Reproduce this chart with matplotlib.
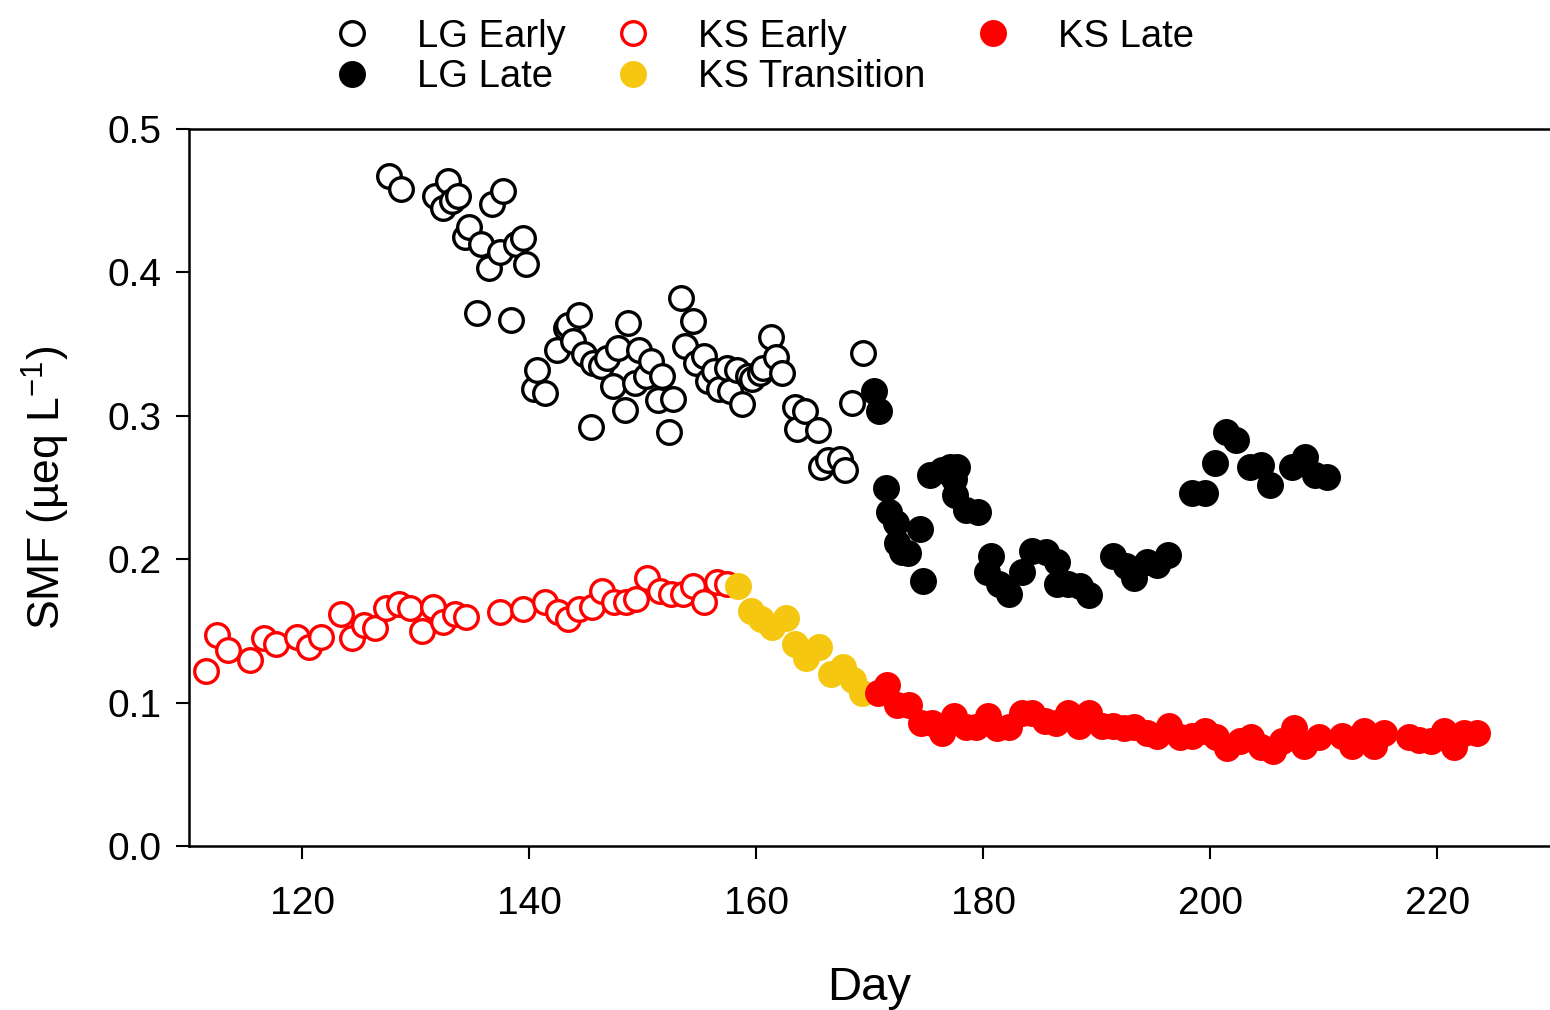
import matplotlib
matplotlib.use("Agg")
import matplotlib.pyplot as plt

plt.rcParams['font.family'] = ['Liberation Sans', 'DejaVu Sans']
plt.rcParams['mathtext.fontset'] = 'custom'
plt.rcParams['mathtext.rm'] = 'Liberation Sans'
plt.rcParams['mathtext.it'] = 'Liberation Sans'

lg_early_day = [127.6, 128.7, 131.7, 132.4, 132.8, 133.2, 133.7, 134.3, 134.7, 135.4, 135.7, 136.4, 136.7,
                137.4, 137.7, 138.4, 138.8, 139.4, 139.7, 140.4, 140.7, 141.4, 142.4, 143.2, 143.4, 143.8,
                144.4, 144.8, 145.4, 145.6, 146.3, 146.8, 147.4, 147.8, 148.4, 148.7, 149.3, 149.7, 150.3,
                150.7, 151.3, 151.7, 152.3, 152.7, 153.4, 153.7, 154.4, 154.7, 155.4, 155.7, 156.3, 156.7,
                157.4, 157.7, 158.3, 158.7, 159.3, 159.6, 160.3, 160.6, 161.3, 161.7, 162.3, 163.4, 163.6,
                164.3, 165.4, 165.7, 166.3, 167.4, 167.8, 168.4, 169.4]
lg_early_val = [0.467, 0.458, 0.453, 0.445, 0.464, 0.450, 0.453, 0.425, 0.432, 0.372, 0.420, 0.403, 0.448,
                0.414, 0.457, 0.367, 0.420, 0.424, 0.406, 0.319, 0.332, 0.316, 0.346, 0.361, 0.363, 0.352,
                0.370, 0.343, 0.292, 0.337, 0.335, 0.340, 0.321, 0.347, 0.304, 0.365, 0.323, 0.346, 0.328,
                0.338, 0.311, 0.328, 0.289, 0.312, 0.382, 0.349, 0.366, 0.337, 0.342, 0.324, 0.331, 0.319,
                0.333, 0.317, 0.332, 0.308, 0.328, 0.326, 0.330, 0.333, 0.355, 0.341, 0.330, 0.306, 0.291,
                0.303, 0.290, 0.264, 0.269, 0.270, 0.262, 0.309, 0.344]

lg_late_day = [170.4, 170.8, 171.4, 171.7, 172.3, 172.4, 172.8, 173.4, 174.4, 174.7, 175.3, 176.4, 177.1,
               177.4, 177.5, 177.7, 178.5, 179.5, 180.3, 180.7, 181.4, 182.3, 183.4, 184.3, 185.5, 186.5,
               186.5, 187.5, 188.5, 189.3, 191.4, 192.6, 193.3, 194.4, 195.3, 196.3, 198.4, 199.5, 200.4,
               201.4, 202.3, 203.5, 204.5, 205.3, 207.2, 208.4, 209.2, 210.3]
lg_late_val = [0.317, 0.303, 0.250, 0.233, 0.225, 0.211, 0.205, 0.204, 0.221, 0.185, 0.259, 0.262, 0.264,
               0.256, 0.245, 0.264, 0.234, 0.233, 0.191, 0.202, 0.183, 0.176, 0.191, 0.206, 0.205, 0.198,
               0.183, 0.183, 0.181, 0.175, 0.202, 0.195, 0.187, 0.198, 0.196, 0.203, 0.246, 0.246, 0.267,
               0.289, 0.283, 0.264, 0.266, 0.252, 0.264, 0.271, 0.259, 0.257]

ks_early_day = [111.5, 112.5, 113.4, 115.4, 116.6, 117.7, 119.5, 120.6, 121.6, 123.4, 124.4, 125.4, 126.4,
                127.4, 128.5, 129.5, 130.5, 131.5, 132.4, 133.4, 134.4, 137.4, 139.4, 141.4, 142.5, 143.4,
                144.4, 145.5, 146.4, 147.5, 148.5, 149.4, 150.4, 151.5, 152.5, 153.5, 154.4, 155.4, 156.5,
                157.4]
ks_early_val = [0.122, 0.147, 0.137, 0.130, 0.145, 0.141, 0.146, 0.139, 0.146, 0.162, 0.145, 0.154, 0.152,
                0.166, 0.169, 0.166, 0.150, 0.167, 0.156, 0.162, 0.160, 0.163, 0.165, 0.170, 0.163, 0.158,
                0.165, 0.167, 0.178, 0.170, 0.170, 0.172, 0.187, 0.178, 0.176, 0.176, 0.181, 0.170, 0.184,
                0.183]

ks_trans_day = [158.4, 159.5, 160.4, 161.4, 162.6, 163.4, 164.4, 165.5, 166.6, 167.6, 168.5, 169.3]
ks_trans_val = [0.181, 0.164, 0.158, 0.153, 0.159, 0.141, 0.131, 0.139, 0.120, 0.125, 0.116, 0.107]

ks_late_day = [170.7, 171.5, 172.4, 173.5, 174.5, 175.5, 176.4, 177.4, 178.5, 179.4, 180.4, 181.2, 182.3,
               183.4, 184.3, 185.4, 186.4, 187.5, 188.4, 189.3, 190.5, 191.4, 192.4, 193.3, 194.4, 195.3,
               196.4, 197.3, 198.4, 199.5, 200.5, 201.5, 202.6, 203.6, 204.5, 205.5, 206.3, 207.4, 208.3,
               209.6, 211.6, 212.5, 213.6, 214.4, 215.3, 217.5, 218.4, 219.5, 220.6, 221.5, 222.4, 223.5]
ks_late_val = [0.107, 0.112, 0.098, 0.098, 0.086, 0.086, 0.079, 0.091, 0.083, 0.083, 0.091, 0.082, 0.083,
               0.093, 0.093, 0.087, 0.086, 0.093, 0.084, 0.093, 0.084, 0.084, 0.082, 0.083, 0.079, 0.077,
               0.084, 0.076, 0.077, 0.080, 0.076, 0.068, 0.073, 0.076, 0.069, 0.066, 0.073, 0.082, 0.070,
               0.076, 0.077, 0.070, 0.080, 0.070, 0.079, 0.076, 0.074, 0.073, 0.080, 0.069, 0.079, 0.079]

x_ticks = [120, 140, 160, 180, 200, 220]
y_ticks = [0.0, 0.1, 0.2, 0.3, 0.4, 0.5]

GOLD = '#F5C710'
RED = '#FF0000'

fig = plt.figure(figsize=(15.5, 10.1), dpi=100)
ax = fig.add_axes([189 / 1550, 1 - 846 / 1010, (1550 - 189) / 1550, (846 - 129) / 1010])

ms = 17
mew = 2.4
h1, = ax.plot(lg_early_day, lg_early_val, 'o', ms=ms, mfc='white', mec='black', mew=mew, label='LG Early')
h2, = ax.plot(lg_late_day, lg_late_val, 'o', ms=ms, mfc='black', mec='black', mew=mew, label='LG Late')
h3, = ax.plot(ks_early_day, ks_early_val, 'o', ms=ms, mfc='white', mec=RED, mew=mew, label='KS Early')
h4, = ax.plot(ks_trans_day, ks_trans_val, 'o', ms=ms, mfc=GOLD, mec=GOLD, mew=mew, label='KS Transition')
h5, = ax.plot(ks_late_day, ks_late_val, 'o', ms=ms, mfc=RED, mec=RED, mew=mew, label='KS Late')

ax.set_xlim(110, 229.95)
ax.set_ylim(0.0, 0.5)
ax.set_xticks(x_ticks)
ax.set_yticks(y_ticks)
ax.set_yticklabels([f'{v:.1f}' for v in y_ticks])
ax.tick_params(direction='out', length=9.5, width=1.5, labelsize=28)
ax.tick_params(axis='x', pad=19)
ax.tick_params(axis='y', pad=10)
ax.spines['right'].set_visible(False)
for s in ['left', 'bottom', 'top']:
    ax.spines[s].set_linewidth(1.8)

ax.set_xlabel('Day', fontsize=34, labelpad=32)
ax.set_ylabel('SMF (µeq L$^{\\mathrm{-1}}$)', fontsize=32, labelpad=26)

fig.legend(handles=[h1, h2, h3, h4, h5], ncol=3, loc='upper left',
           bbox_to_anchor=(306 / 1550, 1.0 + 0.008), frameon=False, fontsize=27.5,
           handlelength=1.0, handletextpad=1.2, columnspacing=1.27, labelspacing=0.12,
           borderpad=0.2, markerscale=1.0)

fig.savefig('out.png', dpi=100)
